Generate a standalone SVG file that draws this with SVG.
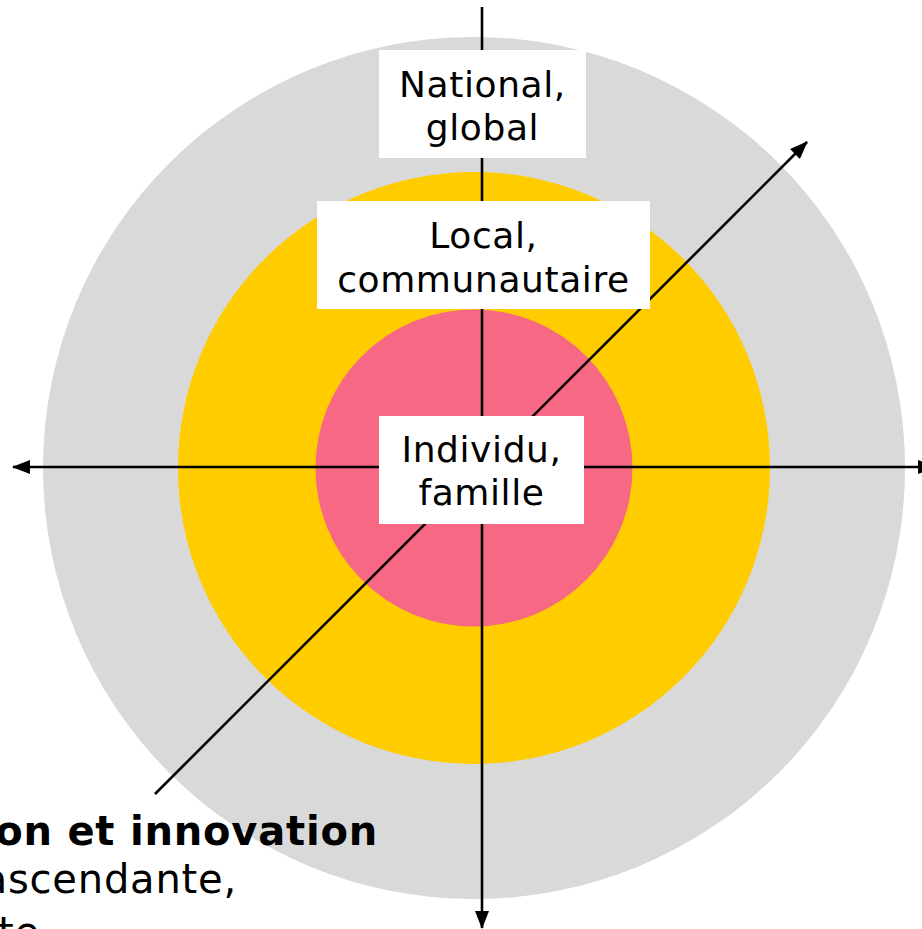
<svg xmlns="http://www.w3.org/2000/svg" width="922" height="929" viewBox="0 0 922 929">
<style>
.lbl{font-family:"DejaVu Sans","Liberation Sans",sans-serif;font-size:36px;letter-spacing:0.6px;fill:#000;text-anchor:middle}
.box{fill:#fff}
.ax{stroke:#000;stroke-width:2.6;fill:none}
.cap{font-family:"DejaVu Sans","Liberation Sans",sans-serif;font-size:40px;letter-spacing:0.8px;fill:#000;text-anchor:end}
</style>
<defs>
<marker id="ah" viewBox="0 0 18 14" refX="17" refY="7" markerWidth="18" markerHeight="14" markerUnits="userSpaceOnUse" orient="auto">
<path d="M0,0 L18,7 L0,14 Z" fill="#000"/>
</marker>
</defs>
<g id="rings">
<circle cx="474" cy="468" r="431" fill="#d9d9d9"/>
<circle cx="474" cy="468" r="296" fill="#ffcc00"/>
<circle cx="474" cy="468" r="158.5" fill="#f66884"/>
</g>
<g id="connectors">
<line class="ax" x1="482" y1="7" x2="482" y2="928" marker-end="url(#ah)"/>
<line class="ax" x1="482" y1="467" x2="13" y2="467" marker-end="url(#ah)"/>
<line class="ax" x1="482" y1="467" x2="935" y2="467" marker-end="url(#ah)"/>
<line class="ax" x1="155" y1="794" x2="807" y2="142" marker-end="url(#ah)"/>
</g>
<g id="national">
<rect class="box" x="379" y="50" width="207" height="108"/>
<text class="lbl" x="482.5" y="97">National,</text>
<text class="lbl" x="482.5" y="140">global</text>
</g>
<g id="local">
<rect class="box" x="317" y="201" width="333" height="108"/>
<text class="lbl" x="483.5" y="248">Local,</text>
<text class="lbl" x="483.5" y="292">communautaire</text>
</g>
<g id="individu">
<rect class="box" x="379" y="416" width="205" height="108"/>
<text class="lbl" x="481.5" y="462">Individu,</text>
<text class="lbl" x="481.5" y="505">famille</text>
</g>
<g id="caption">
<text class="cap" x="378" y="845" font-weight="bold">on et innovation</text>
<text class="cap" x="237" y="893">ascendante,</text>
<text class="cap" x="40" y="946">nte</text>
</g>
</svg>
